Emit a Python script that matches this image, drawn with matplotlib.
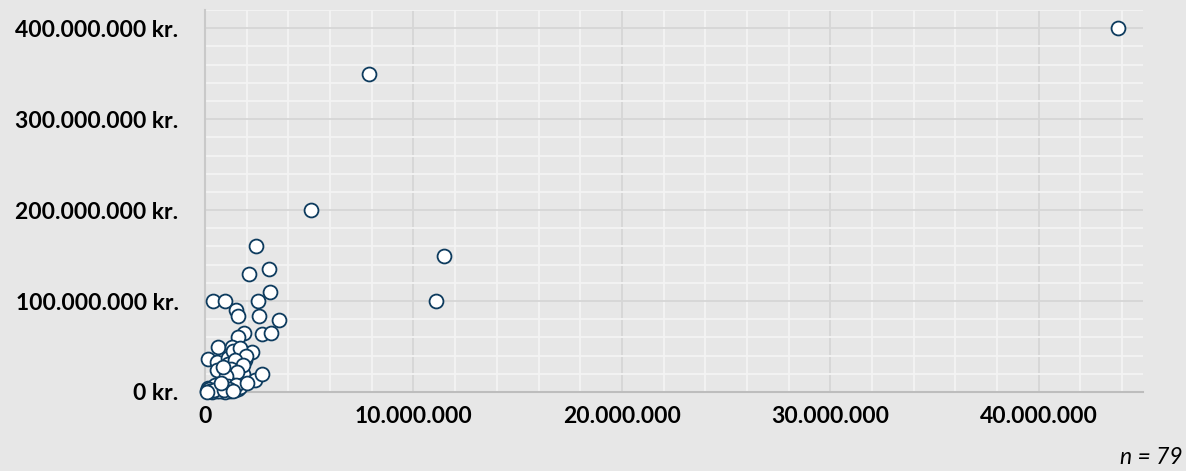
import matplotlib.pyplot as plt
from matplotlib.ticker import MultipleLocator, FuncFormatter

# values in millions (x = first column, y = kr.)
x_mio = [43.8, 7.87, 5.08, 11.46, 11.08,
         2.43, 3.05, 2.13, 3.12, 0.37, 0.94, 2.54, 1.47, 1.60, 2.57,
         3.53, 1.89, 2.72, 3.17, 1.60,
         0.64, 1.28, 1.84, 2.27, 0.13, 0.56, 1.12, 1.60, 1.92, 1.44,
         0.56, 1.12, 1.84, 2.40, 1.36, 2.72, 1.73, 1.50, 1.35, 1.70,
         1.95, 1.45, 1.80, 1.25, 1.55, 1.00, 0.85,
         0.08, 0.30, 0.72, 1.04, 1.20, 1.44, 0.16, 0.88, 0.56, 0.40,
         0.60, 0.80, 1.00, 1.30, 1.60, 1.70, 0.50, 0.20, 0.95, 1.10,
         0.70, 0.35, 1.50, 0.25, 0.65, 1.15, 0.45, 0.90, 1.35, 0.10,
         2.00, 0.75]
y_mio = [400, 350, 200, 150, 100,
         160, 135, 130, 110, 100, 100, 100, 90, 84, 84,
         79, 64.5, 64, 64.5, 61,
         50, 49, 44, 44, 36, 33, 37, 39, 35, 30,
         24, 31, 20, 13, 14, 20, 41, 42, 45, 48,
         40, 35, 30, 25, 22, 18, 28,
         1, 2, 2, 2, 1, 2, 4, 4, 1, 6,
         3, 1, 5, 4, 3, 6, 8, 3, 0.5, 7,
         5, 0.5, 8, 1.5, 1.5, 3, 2.5, 2, 1, 0.3,
         10, 10]

n_obs = len(x_mio)

bg = '#E7E7E7'
fig = plt.figure(figsize=(11.86, 4.71), dpi=100, facecolor=bg)
ax = fig.add_axes([205 / 1186, 1 - 392 / 471, 938 / 1186, 382 / 471])
ax.set_facecolor(bg)

ax.scatter([v * 1e6 for v in x_mio], [v * 1e6 for v in y_mio], s=100,
           facecolor='white', edgecolor='#0D3B5E', linewidth=1.3, zorder=3,
           clip_on=False)

ax.set_xlim(0, 45e6)
ax.set_ylim(0, 420e6)
ax.xaxis.set_major_locator(MultipleLocator(10e6))
ax.xaxis.set_minor_locator(MultipleLocator(2e6))
ax.yaxis.set_major_locator(MultipleLocator(100e6))
ax.yaxis.set_minor_locator(MultipleLocator(20e6))
ax.grid(which='minor', color='#F4F4F4', linewidth=1.3, zorder=0)
ax.grid(which='major', color='#D6D6D6', linewidth=1.3, zorder=1)
ax.set_axisbelow(True)


def dk(v, pos):
    return '{:,.0f}'.format(v).replace(',', '.')


ax.xaxis.set_major_formatter(FuncFormatter(dk))
ax.yaxis.set_major_formatter(FuncFormatter(lambda v, p: dk(v, p) + ' kr.'))

for lab in ax.get_xticklabels() + ax.get_yticklabels():
    lab.set_fontfamily('Lato')
    lab.set_fontweight('bold')
    lab.set_fontsize(16.5)
ax.tick_params(which='both', length=0)
ax.tick_params(axis='y', pad=19)
ax.tick_params(axis='x', pad=10)

for s in ['top', 'right']:
    ax.spines[s].set_visible(False)
ax.spines['left'].set_color('#C9C9C9')
ax.spines['bottom'].set_color('#BDBDBD')
ax.spines['left'].set_linewidth(1.5)
ax.spines['bottom'].set_linewidth(1.5)

fig.text(1183 / 1186, 1 - 457 / 471, 'n = {}'.format(n_obs), ha='right', va='center',
         fontfamily='Lato', fontstyle='italic', fontsize=16.5)

fig.savefig('out.png', dpi=100, facecolor=bg)
